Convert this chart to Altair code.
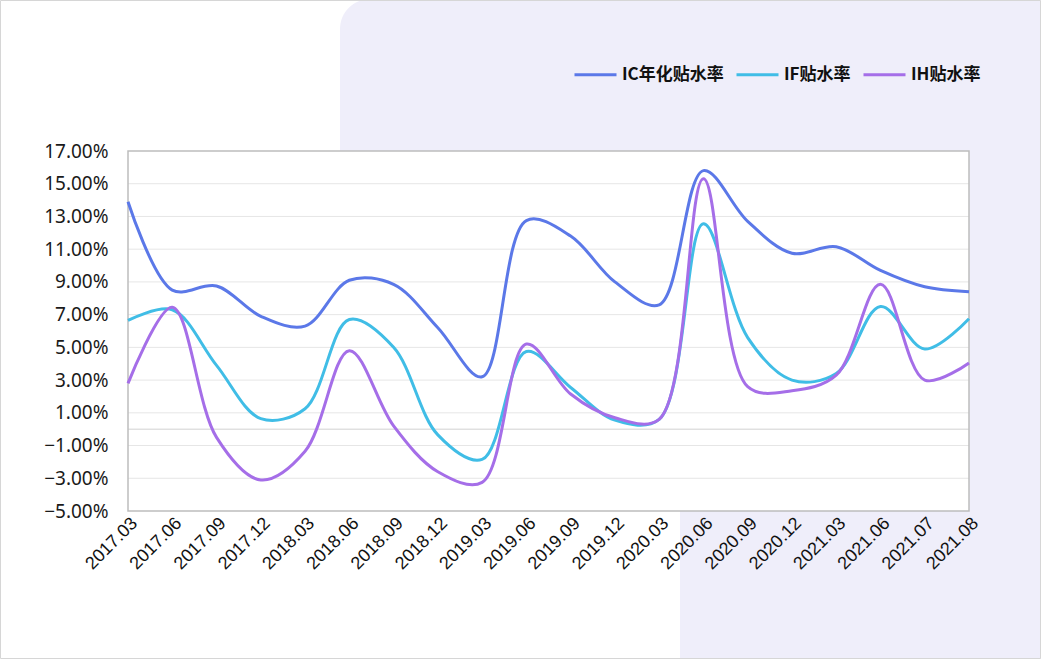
import altair as alt
import pandas as pd

dates = ["2017.03", "2017.06", "2017.09", "2017.12", "2018.03", "2018.06", "2018.09",
         "2018.12", "2019.03", "2019.06", "2019.09", "2019.12", "2020.03", "2020.06",
         "2020.09", "2020.12", "2021.03", "2021.06", "2021.07", "2021.08"]
ic_rate = [13.9, 8.5, 8.75, 6.9, 6.3, 9.1, 8.85, 6.2, 3.2, 12.75, 11.8, 9.0, 7.6, 15.8,
           12.7, 10.75, 11.15, 9.7, 8.7, 8.4]
if_rate = [6.65, 7.3, 3.9, 0.65, 1.25, 6.7, 5.0, -0.35, -1.85, 4.75, 2.55, 0.55, 0.6, 12.55,
           5.6, 3.0, 3.4, 7.5, 4.9, 6.75]
ih_rate = [2.8, 7.45, -0.5, -3.1, -1.35, 4.8, 0.2, -2.6, -3.25, 5.2, 2.15, 0.7, 0.6, 15.3,
           2.6, 2.35, 3.3, 8.85, 3.0, 4.05]
series_names = ["IC年化贴水率", "IF贴水率", "IH贴水率"]
series_colors = ["#5b78e8", "#40bde6", "#a56ee8"]
y_ticks = [-5, -3, -1, 1, 3, 5, 7, 9, 11, 13, 15, 17]

W, H = 841, 360

rows = []
for name, vals in zip(series_names, [ic_rate, if_rate, ih_rate]):
    for d, v in zip(dates, vals):
        rows.append({"date": d, "series": name, "value": v})
df = pd.DataFrame(rows)
grid_df = pd.DataFrame({"v": y_ticks[1:-1]})
one = pd.DataFrame({"k": [0]})

y_scale = alt.Scale(domain=[-5, 17], nice=False, zero=False)
y_axis = alt.Axis(title=None, values=y_ticks, grid=False, ticks=False, domain=False,
                  labelExpr="format(datum.value, '.2f') + '%'",
                  labelOverlap=False,
                  labelFontSize=19, labelFont="Noto Sans", labelColor="#1a1a1a",
                  labelPadding=20, zindex=1)

lav = "#efeefa"
blob_top = alt.Chart(one).mark_rect(color=lav, cornerRadiusTopLeft=30).encode(
    x=alt.value(212), x2=alt.value(913), y=alt.value(-152), y2=alt.value(300))
blob_bot = alt.Chart(one).mark_rect(color=lav).encode(
    x=alt.value(552), x2=alt.value(913), y=alt.value(299), y2=alt.value(508))
plot_bg = alt.Chart(one).mark_rect(color="white").encode(
    x=alt.value(0), x2=alt.value(W), y=alt.value(0), y2=alt.value(H))

grid = alt.Chart(grid_df).mark_rule(color="#e6e6e6", strokeWidth=1).encode(
    y=alt.Y("v:Q", scale=y_scale, axis=y_axis))
zero = alt.Chart(one).mark_rule(color="#d2d2d2", strokeWidth=1).encode(
    y=alt.datum(0, scale=y_scale, axis=y_axis))
border = alt.Chart(one).mark_rect(fill=None, stroke="#bdbdbd", strokeWidth=1.5).encode(
    x=alt.value(0), x2=alt.value(W), y=alt.value(0), y2=alt.value(H))
outer = alt.Chart(one).mark_rect(fill=None, stroke="#d6d6d6", strokeWidth=1).encode(
    x=alt.value(-127.5), x2=alt.value(912.5), y=alt.value(-150.5), y2=alt.value(507.5))

lines = alt.Chart(df).mark_line(interpolate="catmull-rom", strokeWidth=3).encode(
    x=alt.X("date:O", sort=dates, scale=alt.Scale(type="point", padding=0),
            axis=alt.Axis(title=None, labelAngle=-45, labelFontSize=18,
                          labelFont="Liberation Sans", labelColor="#111111",
                          labelOverlap=False,
                          ticks=False, domain=False, labelPadding=3, zindex=1)),
    y=alt.Y("value:Q", scale=y_scale, axis=y_axis),
    color=alt.Color("series:N",
                    scale=alt.Scale(domain=series_names, range=series_colors),
                    sort=series_names,
                    legend=alt.Legend(title=None, orient="none", legendX=445, legendY=-99,
                                      direction="horizontal", symbolType="stroke",
                                      symbolSize=1764, symbolStrokeWidth=3,
                                      labelFontSize=17, labelFontWeight="bold",
                                      labelFont="Noto Sans CJK SC", labelColor="#111111",
                                      columnPadding=6, labelOffset=4, padding=0,
                                      zindex=1)),
    detail="series:N",
)

chart = alt.layer(blob_top, blob_bot, plot_bg, grid, zero, border, lines, outer).properties(
    width=W, height=H,
    autosize=alt.AutoSizeParams(type="none"),
    padding={"left": 128, "top": 151, "right": 72, "bottom": 148},
    background="white",
).configure_view(strokeWidth=0)

chart.save("out.html", embed_options={"renderer": "svg", "actions": False})
